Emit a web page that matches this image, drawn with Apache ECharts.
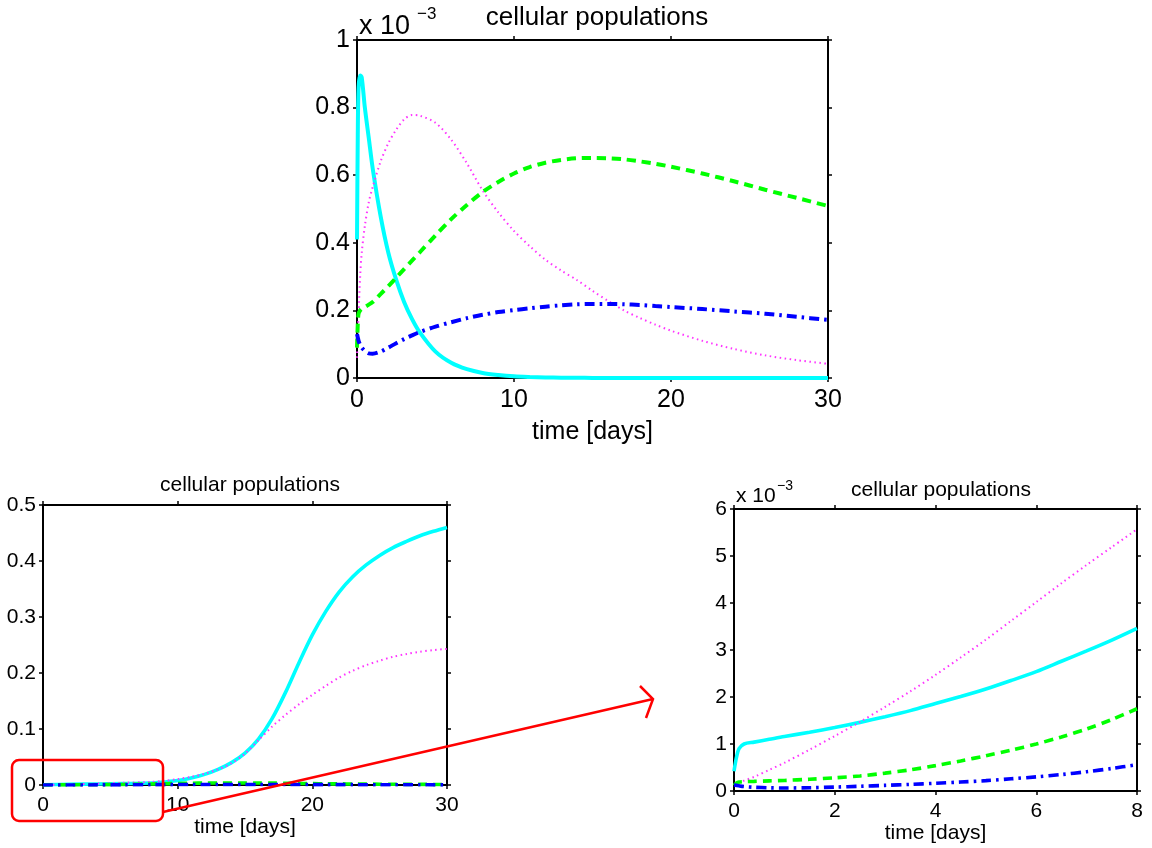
<!DOCTYPE html>
<html>
<head>
<meta charset="utf-8">
<title>cellular populations</title>
<script src="https://cdn.jsdelivr.net/npm/echarts@6/dist/echarts.min.js"></script>
<style>
  html, body { margin: 0; padding: 0; background: #fff; }
  #chart { width: 1152px; height: 848px; }
</style>
</head>
<body>
<div id="chart"></div>
<script>
// ---- top panel: populations over 30 days (values in units of 1e-3) ----
const topTime    = [0, 0.05, 0.1, 0.2, 0.3, 0.5, 0.75, 1, 1.5, 2, 2.5, 3, 3.5, 4, 5, 6, 7, 8, 9, 10, 11, 12, 13, 14, 15, 16, 17, 18, 19, 20, 22, 24, 26, 28, 30];
const topCyan    = [0.41, 0.72, 0.86, 0.895, 0.89, 0.80, 0.71, 0.62, 0.48, 0.37, 0.29, 0.225, 0.175, 0.135, 0.078, 0.045, 0.026, 0.015, 0.009, 0.005, 0.003, 0.0017, 0.001, 0.0006, 0.0003, 0.0002, 0.0001, 0, 0, 0, 0, 0, 0, 0, 0];
const topMagenta = [0.06, 0.13, 0.19, 0.30, 0.37, 0.45, 0.52, 0.565, 0.64, 0.695, 0.735, 0.765, 0.778, 0.776, 0.755, 0.705, 0.635, 0.555, 0.49, 0.435, 0.39, 0.35, 0.318, 0.29, 0.258, 0.228, 0.20, 0.178, 0.158, 0.14, 0.11, 0.086, 0.067, 0.053, 0.042];
const topGreen   = [0.09, 0.16, 0.19, 0.20, 0.205, 0.21, 0.217, 0.225, 0.248, 0.272, 0.297, 0.322, 0.347, 0.372, 0.422, 0.47, 0.512, 0.55, 0.58, 0.605, 0.624, 0.637, 0.645, 0.65, 0.651, 0.65, 0.647, 0.641, 0.634, 0.625, 0.605, 0.582, 0.557, 0.533, 0.509];
const topBlue    = [0.13, 0.12, 0.11, 0.098, 0.09, 0.08, 0.073, 0.072, 0.078, 0.09, 0.103, 0.115, 0.126, 0.136, 0.152, 0.165, 0.177, 0.187, 0.195, 0.201, 0.206, 0.211, 0.215, 0.218, 0.219, 0.219, 0.218, 0.216, 0.213, 0.21, 0.204, 0.197, 0.19, 0.181, 0.172];

// ---- bottom-left panel: full scale over 30 days ----
const fullTime    = [0, 2, 4, 6, 8, 9, 10, 11, 12, 13, 14, 15, 16, 17, 18, 19, 20, 21, 22, 23, 24, 25, 26, 27, 28, 29, 30];
const fullCyan    = [0.0004, 0.00135, 0.00186, 0.00254, 0.00346, 0.0055, 0.008, 0.0125, 0.019, 0.028, 0.04, 0.057, 0.082, 0.118, 0.165, 0.218, 0.268, 0.31, 0.345, 0.372, 0.393, 0.41, 0.424, 0.435, 0.445, 0.453, 0.46];
const fullMagenta = [0.00012, 0.00117, 0.00247, 0.00402, 0.00557, 0.0075, 0.0105, 0.0145, 0.02, 0.028, 0.039, 0.056, 0.08, 0.104, 0.125, 0.144, 0.161, 0.177, 0.192, 0.204, 0.214, 0.222, 0.229, 0.234, 0.238, 0.241, 0.243];
const fullGreen   = [0.00012, 0.00028, 0.00055, 0.001, 0.00175, 0.0022, 0.0027, 0.0031, 0.0034, 0.0036, 0.0037, 0.0037, 0.0036, 0.0034, 0.0031, 0.0028, 0.0025, 0.0022, 0.002, 0.0018, 0.0016, 0.0014, 0.0013, 0.0012, 0.0011, 0.001, 0.0009];
const fullBlue    = [0.00013, 0.000083, 0.000165, 0.0003, 0.00056, 0.0007, 0.0008, 0.0009, 0.00095, 0.001, 0.001, 0.001, 0.00095, 0.0009, 0.00085, 0.0008, 0.00075, 0.0007, 0.00065, 0.0006, 0.00055, 0.0005, 0.00045, 0.0004, 0.00035, 0.0003, 0.0003];

// ---- bottom-right panel: first 8 days (values in units of 1e-3) ----
const earlyTime    = [0, 0.05, 0.1, 0.2, 0.4, 0.7, 1, 1.5, 2, 2.5, 3, 3.5, 4, 4.5, 5, 5.5, 6, 6.5, 7, 7.5, 8];
const earlyCyan    = [0.42, 0.72, 0.90, 1.0, 1.04, 1.10, 1.16, 1.25, 1.35, 1.46, 1.58, 1.71, 1.86, 2.01, 2.17, 2.35, 2.54, 2.76, 2.98, 3.21, 3.46];
const earlyMagenta = [0.12, 0.15, 0.17, 0.22, 0.30, 0.45, 0.60, 0.88, 1.17, 1.47, 1.79, 2.12, 2.47, 2.84, 3.22, 3.62, 4.02, 4.42, 4.81, 5.19, 5.57];
const earlyGreen   = [0.12, 0.17, 0.19, 0.20, 0.205, 0.215, 0.225, 0.25, 0.28, 0.32, 0.38, 0.45, 0.54, 0.64, 0.75, 0.87, 1.0, 1.15, 1.32, 1.52, 1.75];
const earlyBlue    = [0.13, 0.12, 0.11, 0.095, 0.08, 0.068, 0.064, 0.07, 0.083, 0.10, 0.12, 0.14, 0.165, 0.19, 0.22, 0.26, 0.30, 0.35, 0.41, 0.48, 0.56];

const titleText = 'cellular populations';
const xName = 'time [days]';
const FONT = '"Liberation Sans", Arial, Helvetica, sans-serif';

const pairs = (xs, ys) => xs.map((x, i) => [x, ys[i]]);

// one grid = closed box with outward ticks on all four sides
function axesFor(gi, xMax, xInt, yMax, yInt, fs, xGap) {
  const line = { show: true, onZero: false, lineStyle: { color: '#000', width: 2 } };
  const tick = { show: true, inside: false, length: 4, lineStyle: { color: '#000', width: 1.5 } };
  const lbl = { color: '#000', fontFamily: FONT, fontSize: fs };
  return {
    x: [
      { type: 'value', gridIndex: gi, min: 0, max: xMax, interval: xInt, position: 'bottom',
        axisLine: line, axisTick: tick, splitLine: { show: false },
        axisLabel: Object.assign({ margin: 10 }, lbl),
        name: xName, nameLocation: 'middle', nameGap: xGap,
        nameTextStyle: { color: '#000', fontFamily: FONT, fontSize: fs } },
      { type: 'value', gridIndex: gi, min: 0, max: xMax, interval: xInt, position: 'top',
        axisLine: line, axisTick: tick, splitLine: { show: false }, axisLabel: { show: false } }
    ],
    y: [
      { type: 'value', gridIndex: gi, min: 0, max: yMax, interval: yInt, position: 'left',
        axisLine: line, axisTick: tick, splitLine: { show: false },
        axisLabel: Object.assign({ margin: 7 }, lbl) },
      { type: 'value', gridIndex: gi, min: 0, max: yMax, interval: yInt, position: 'right',
        axisLine: line, axisTick: tick, splitLine: { show: false }, axisLabel: { show: false } }
    ]
  };
}

const a0 = axesFor(0, 30, 10, 1, 0.2, 25, 42);
const a1 = axesFor(1, 30, 10, 0.5, 0.1, 21, 30);
const a2 = axesFor(2, 8, 2, 6, 1, 21, 26);

const xAxes = [...a0.x, ...a1.x, ...a2.x];
const yAxes = [...a0.y, ...a1.y, ...a2.y];

function fourSeries(axisBase, t, c, m, g, b, scale) {
  const w = scale;
  const common = { type: 'line', showSymbol: false, symbol: 'none', smooth: 0.3, silent: true,
                   xAxisIndex: axisBase, yAxisIndex: axisBase };
  return [
    Object.assign({}, common, { data: pairs(t, c), lineStyle: { color: '#00ffff', width: 4 * w, type: 'solid' } }),
    Object.assign({}, common, { data: pairs(t, m), lineStyle: { color: '#ff33ff', width: 2, type: [1.5, 3.5] } }),
    Object.assign({}, common, { data: pairs(t, g), lineStyle: { color: '#00ff00', width: 4 * w, type: [9, 6], cap: 'butt' } }),
    Object.assign({}, common, { data: pairs(t, b), lineStyle: { color: '#0000ff', width: 4 * w, type: [10, 5, 2.5, 5], cap: 'butt' } })
  ];
}

const series = [
  ...fourSeries(0, topTime, topCyan, topMagenta, topGreen, topBlue, 1),
  ...fourSeries(2, fullTime, fullCyan, fullMagenta, fullGreen, fullBlue, 0.9),
  ...fourSeries(4, earlyTime, earlyCyan, earlyMagenta, earlyGreen, earlyBlue, 0.9)
];

const titleStyle = (fs) => ({ color: '#000', fontFamily: FONT, fontSize: fs, fontWeight: 'normal' });

const option = {
  animation: false,
  backgroundColor: '#fff',
  grid: [
    { left: 357, top: 40, width: 471, height: 338 },
    { left: 43, top: 505, width: 404, height: 280 },
    { left: 734, top: 509, width: 403, height: 282 }
  ],
  xAxis: xAxes,
  yAxis: yAxes,
  title: [
    { text: titleText, left: 592, top: 0, textAlign: 'center', textStyle: titleStyle(26) },
    { text: titleText, left: 245, top: 470, textAlign: 'center', textStyle: titleStyle(21) },
    { text: titleText, left: 936, top: 475, textAlign: 'center', textStyle: titleStyle(21) }
  ],
  graphic: [
    // exponent notes for the scaled axes
    { type: 'text', left: 359, top: 13, style: { text: 'x 10', font: '27px ' + FONT, fill: '#000' } },
    { type: 'text', left: 417, top: 6, style: { text: '\u22123', font: '17px ' + FONT, fill: '#000' } },
    { type: 'text', left: 736, top: 486, style: { text: 'x 10', font: '21px ' + FONT, fill: '#000' } },
    { type: 'text', left: 777, top: 479, style: { text: '\u22123', font: '14px ' + FONT, fill: '#000' } },
    // zoom callout: box around the first days and arrow to the detail panel
    { type: 'rect', z: 100, shape: { x: 12, y: 760, width: 151, height: 61, r: 7 },
      style: { fill: 'none', stroke: '#ff0000', lineWidth: 2.5 } },
    { type: 'line', z: 100, shape: { x1: 163, y1: 812, x2: 653, y2: 699 },
      style: { stroke: '#ff0000', lineWidth: 2.5 } },
    { type: 'polyline', z: 100, shape: { points: [[640, 686], [653, 699], [646, 718]] },
      style: { fill: 'none', stroke: '#ff0000', lineWidth: 2.5 } }
  ],
  series: series
};

const chart = echarts.init(document.getElementById('chart'), null, { renderer: 'canvas' });
chart.setOption(option);
</script>
</body>
</html>
